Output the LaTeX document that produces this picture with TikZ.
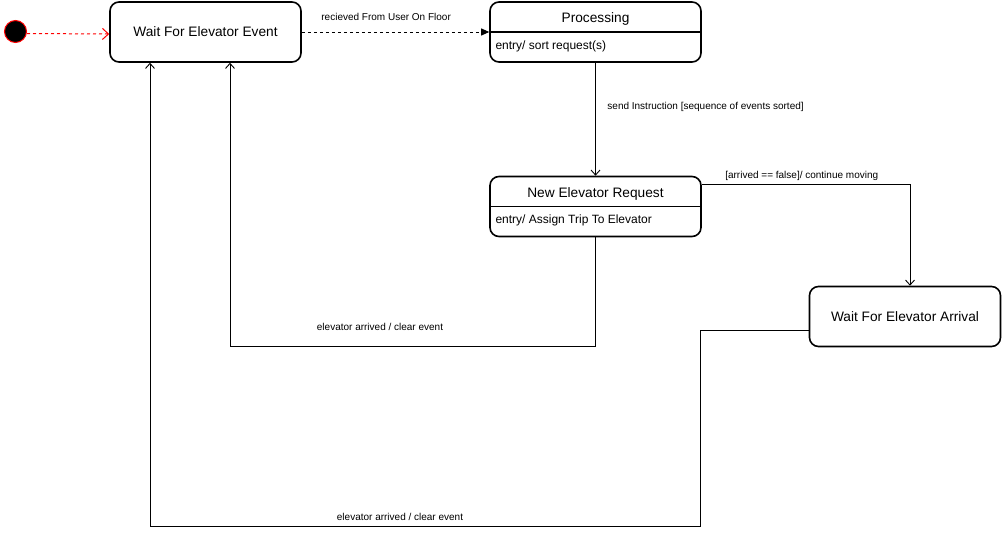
\documentclass[tikz,border=0pt]{standalone}
\usepackage{fontspec}
\setmainfont{Liberation Sans}
\usetikzlibrary{arrows.meta, calc}

\begin{document}
\begin{tikzpicture}[x=1pt, y=-1pt,
    init/.style={circle, draw=red, fill=black, line width=1pt, minimum size=22pt, inner sep=0pt},
    state/.style={draw, line width=1.6pt, rounded corners=9pt, minimum height=60pt, font=\fontsize{13.7}{16}\selectfont},
    title/.style={font=\fontsize{13.7}{16}\selectfont},
    entry/.style={anchor=west, font=\fontsize{12}{14}\selectfont},
    lbl/.style={inner sep=1pt, font=\fontsize{10}{12}\selectfont},
    tr/.style={line width=0.9pt, -{Straight Barb[length=5pt,width=9pt]}}]
    \useasboundingbox (0,0) rectangle (1002,535);
    % states
    \node[init] (start) at (15.5,31.5) {};
    \node[state, minimum width=191pt] (wait) at (205.5,32) {Wait For Elevator Event};
    \node[state, minimum width=211pt] (proc) at (595.5,32) {};
    \node[title] (proct) at (595.5,18.5) {Processing};
    \node[entry] (proce) at (492,46.5) {entry/ sort request(s)};
    \draw[line width=1.8pt] (proc.west) -- (proc.east);
    \node[state, minimum width=211pt] (ner) at (595.5,206.5) {};
    \node[title] (nert) at (595.5,193.5) {New Elevator Request};
    \node[entry] (nere) at (492,220.5) {entry/ Assign Trip To Elevator};
    \draw[line width=1.8pt] (ner.west) -- (ner.east);
    \node[state, minimum width=191pt] (wfea) at (905,316.5) {Wait For Elevator Arrival};
    % bends
    \coordinate (c1) at (230,346.5);
    \coordinate (c2) at (700.5,526.5);
    \coordinate (c3) at (150,526.5);
    % transitions
    \draw[tr, red, line width=1pt, dash pattern=on 3pt off 3pt, -{Straight Barb[length=6pt,width=11pt]}] ([yshift=-2pt]start.east) -- ([yshift=-2pt]wait.west);
    \draw[line width=0.9pt, dash pattern=on 3pt off 3pt, -{Triangle[length=8pt,width=7pt]}] (wait) -- node[lbl, above=10pt, pos=0.45] {recieved From User On Floor} (proc);
    \draw[tr] (proc) -- node[lbl, right=10.5pt, pos=0.39] {send Instruction [sequence of events sorted]} (ner);
    \draw[tr] ([yshift=22pt]ner.east) -| node[lbl, above=2pt, pos=0.24] {[arrived == false]/ continue moving} ([xshift=5pt]wfea.north);
    \draw[tr] (ner.south) |- (c1) -- (c1 |- wait.south);
    \node[lbl] (back1) at (380,327) {elevator arrived / clear event};
    \draw[tr] ([yshift=-14pt]wfea.west) -| (c2) -- (c3) -- (c3 |- wait.south);
    \node[lbl] (back2) at (400,517) {elevator arrived / clear event};
\end{tikzpicture}
\end{document}
